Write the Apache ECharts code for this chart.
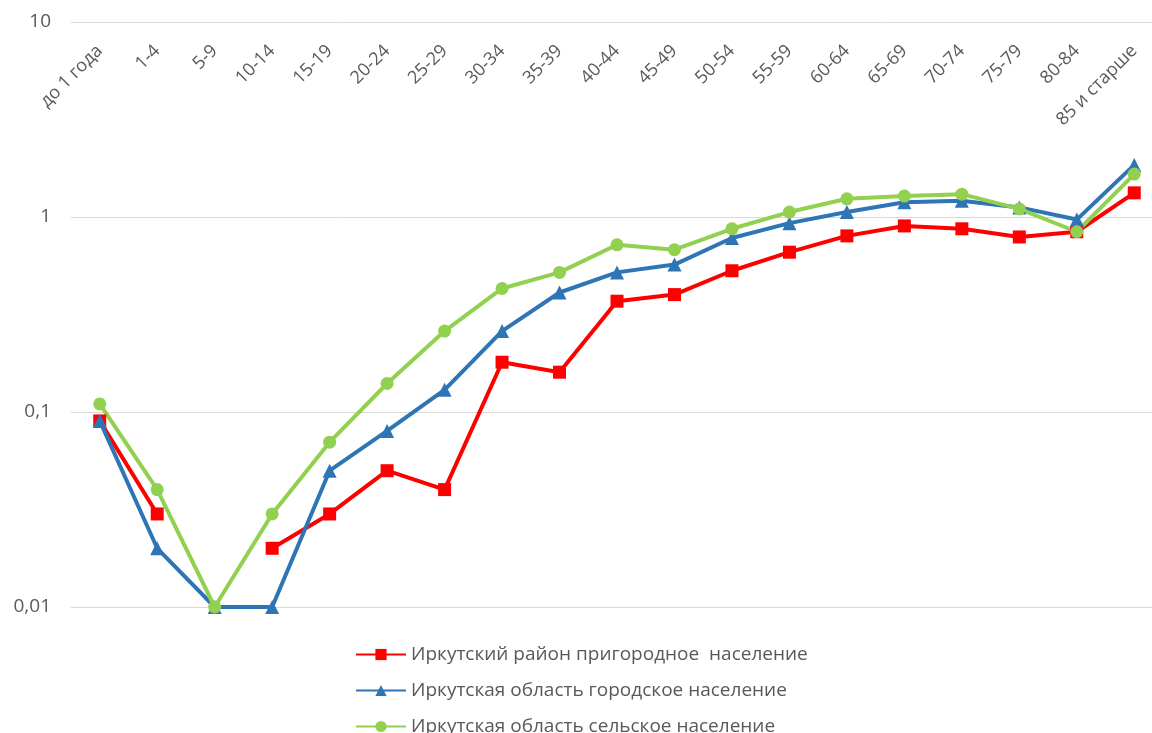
<!DOCTYPE html>
<html>
<head>
<meta charset="utf-8">
<script src="https://cdn.jsdelivr.net/npm/echarts@6/dist/echarts.min.js"></script>
<style>html,body{margin:0;padding:0;background:#fff}#c{width:1152px;height:733px}</style>
</head>
<body>
<div id="c"></div>
<script>
const categories = ['до 1 года','1-4','5-9','10-14','15-19','20-24','25-29','30-34','35-39','40-44','45-49','50-54','55-59','60-64','65-69','70-74','75-79','80-84','85 и старше'];
const seriesNames = ['Иркутский район пригородное  население','Иркутская область городское население','Иркутская область сельское население'];
const suburbanDistrict = [0.09,0.03,null,0.02,0.03,0.05,0.04,0.18,0.16,0.37,0.40,0.53,0.66,0.80,0.90,0.87,0.79,0.84,1.33];
const urbanRegion = [0.09,0.02,0.01,0.01,0.05,0.08,0.13,0.26,0.41,0.52,0.57,0.78,0.93,1.06,1.19,1.21,1.12,0.97,1.85];
const ruralRegion = [0.11,0.04,0.01,0.03,0.07,0.14,0.26,0.43,0.52,0.72,0.68,0.87,1.06,1.24,1.28,1.31,1.10,0.84,1.66];
const yTicks = [0.01,0.1,1,10];

const chart = echarts.init(document.getElementById('c'));
const font = '"Open Sans", "Noto Sans", sans-serif';
function mk(name, data, color, symbol, size) {
  return {
    name, type: 'line', data, connectNulls: false,
    symbol, symbolSize: size,
    lineStyle: { color, width: 4 },
    itemStyle: { color },
    emphasis: { disabled: true },
    animation: false
  };
}
chart.setOption({
  animation: false,
  textStyle: { fontFamily: font },
  grid: { left: 71, top: 22, width: 1092, height: 585, containLabel: false, outerBoundsMode: 'none' },
  xAxis: {
    type: 'category', data: categories, position: 'top', boundaryGap: true,
    axisLine: { show: false }, axisTick: { show: false },
    axisLabel: { inside: true, rotate: -45, margin: 26, interval: 0, color: '#595959', fontSize: 18, fontFamily: font },
    splitLine: { show: false }
  },
  yAxis: {
    type: 'log', logBase: 10, min: yTicks[0], max: yTicks[yTicks.length-1],
    axisLine: { show: false }, axisTick: { show: false },
    axisLabel: { color: '#595959', fontSize: 19, margin: 20, fontFamily: font,
      formatter: v => String(Number(v.toPrecision(3))).replace('.', ',') },
    splitLine: { lineStyle: { color: '#d9d9d9', width: 1 } }
  },
  legend: {
    orient: 'vertical', left: 350, top: 640, height: 200, itemWidth: 50, itemHeight: 14, itemGap: 17,
    textStyle: { color: '#595959', fontSize: 19, fontFamily: font },
    data: seriesNames
  },
  series: [
    mk(seriesNames[0], suburbanDistrict, '#ff0000', 'rect', 13),
    mk(seriesNames[1], urbanRegion, '#2e75b6', 'triangle', 14),
    mk(seriesNames[2], ruralRegion, '#92d050', 'circle', 13)
  ]
});
</script>
</body>
</html>
